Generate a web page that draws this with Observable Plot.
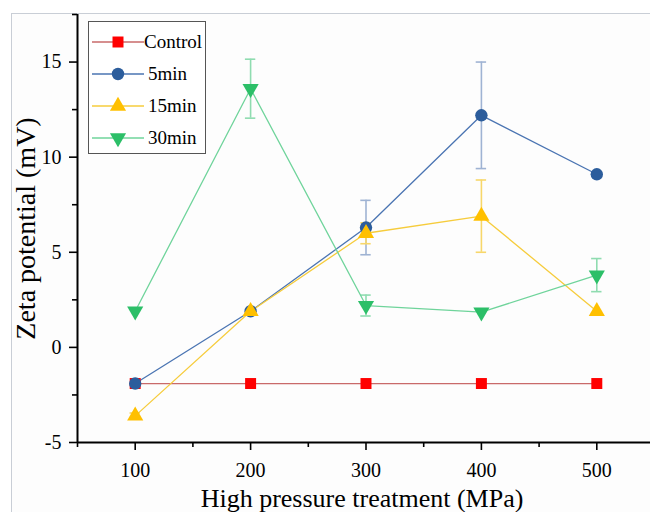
<!DOCTYPE html>
<html>
<head>
<meta charset="utf-8">
<script src="https://cdn.jsdelivr.net/npm/d3@7"></script>
<script src="https://cdn.jsdelivr.net/npm/@observablehq/plot@0.6"></script>
<style>
  html, body { margin: 0; padding: 0; background: #ffffff; }
  #wrap { position: relative; width: 650px; height: 512px; overflow: hidden; font-family: 'Liberation Serif', 'DejaVu Serif', serif; }
  #frame { position: absolute; left: 11px; top: 13px; width: 700px; height: 600px; border-top: 1px solid #c9ced6; border-left: 1px solid #c9ced6; background: #fdfdfd; }
  #chart { position: absolute; left: 0; top: 0; }
  #chart svg text { font-family: 'Liberation Serif', 'DejaVu Serif', serif; }
  #legend { position: absolute; left: 88px; top: 21px; width: 118px; height: 133px; border: 1px solid #555; background: #fff; box-sizing: border-box; }
  .row { position: absolute; left: 3px; height: 24px; display: flex; align-items: center; font-size: 19px; color: #000; font-family: 'Liberation Serif', 'DejaVu Serif', serif; }
  .row svg { display: block; }
</style>
</head>
<body>
<div id="wrap">
  <div id="frame"></div>
  <div id="chart"></div>
  <div id="legend"></div>
</div>
<script>
// ---- data ----
const pressures = [100, 200, 300, 400, 500];
const seriesNames = ["Control", "5min", "15min", "30min"];
const control = [-1.9, -1.9, -1.9, -1.9, -1.9];
const min5 = [-1.9, 1.9, 6.3, 12.2, 9.1];
const min15 = [-3.6, 1.9, 6.0, 6.9, 1.9];
const min30 = [1.9, 13.6, 2.2, 1.85, 3.8];
const errControl = [0, 0, 0, 0, 0];
const err5 = [0, 0, 1.43, 2.8, 0];
const err15 = [0.15, 0, 0.55, 1.9, 0];
const err30 = [0, 1.55, 0.55, 0, 0.87];
const yMajorTicks = [-5, 0, 5, 10, 15];
const yMinorTicks = [-2.5, 2.5, 7.5, 12.5, 17.5];
const xMajorTicks = [100, 200, 300, 400, 500];
const xMinorTicks = [50, 150, 250, 350, 450, 550];

// ---- styles ----
const FONT = "'Liberation Serif', 'DejaVu Serif', serif";
const lineColors = {"Control": "#c96a6a", "5min": "#4a74b2", "15min": "#f6cc3c", "30min": "#6fd49b"};
const markColors = {"Control": "#ff0000", "5min": "#2c5d9c", "15min": "#ffc000", "30min": "#2cbf68"};
const errColors = {"Control": "#e0a0a0", "5min": "#9fb3d3", "15min": "#f7d76a", "30min": "#8fdcb0"};

const triangleDown = {
  draw(context, size) {
    const y = -Math.sqrt(size / (3 * Math.sqrt(3)));
    context.moveTo(0, -y * 2);
    context.lineTo(-Math.sqrt(3) * y, y);
    context.lineTo(Math.sqrt(3) * y, y);
    context.closePath();
  }
};
const symbols = {"Control": "square", "5min": "circle", "15min": "triangle", "30min": triangleDown};
const radii = {"Control": 6.2, "5min": 6.2, "15min": 6.0, "30min": 6.0};

const values = [control, min5, min15, min30];
const errs = [errControl, err5, err15, err30];
const rows = [];
seriesNames.forEach((s, i) => {
  pressures.forEach((p, j) => rows.push({series: s, x: p, y: values[i][j], e: errs[i][j]}));
});

const marks = [];
// error bars
for (const s of seriesNames) {
  const d = rows.filter(r => r.series === s && r.e > 0);
  marks.push(Plot.ruleX(d, {x: "x", y1: r => r.y - r.e, y2: r => r.y + r.e, stroke: errColors[s], strokeWidth: 1.6}));
  marks.push(Plot.ruleY(d, {y: r => r.y + r.e, x1: r => r.x - 4.5, x2: r => r.x + 4.5, stroke: errColors[s], strokeWidth: 1.6}));
  marks.push(Plot.ruleY(d, {y: r => r.y - r.e, x1: r => r.x - 4.5, x2: r => r.x + 4.5, stroke: errColors[s], strokeWidth: 1.6}));
}
// lines + markers in series order
for (const s of seriesNames) {
  const d = rows.filter(r => r.series === s);
  marks.push(Plot.line(d, {x: "x", y: "y", stroke: lineColors[s], strokeWidth: 1.3}));
}
for (const s of seriesNames) {
  const d = rows.filter(r => r.series === s);
  marks.push(Plot.dot(d, {x: "x", y: "y", symbol: () => symbols[s], r: radii[s], fill: markColors[s], stroke: "none"}));
}

const chart = Plot.plot({
  width: 650,
  height: 512,
  marginLeft: 77,
  marginRight: -4,
  marginTop: 14,
  marginBottom: 70,
  style: {background: "transparent", fontFamily: FONT, color: "#000", overflow: "hidden"},
  x: {domain: [50, 550]},
  y: {domain: [-5, 17.5]},
  symbol: {type: "identity"},
  marks: [
    ...marks,
    Plot.axisX({ticks: xMajorTicks, tickSize: 8, tickPadding: 12, fontSize: 20, fontFamily: FONT, strokeWidth: 1.6, label: null, tickFormat: d => String(d)}),
    Plot.axisX({ticks: xMinorTicks, tickSize: 5, strokeWidth: 1.6, label: null, text: null}),
    Plot.axisY({ticks: yMajorTicks, tickSize: 8, tickPadding: 8, fontSize: 20, fontFamily: FONT, strokeWidth: 1.6, label: null, tickFormat: d => String(d)}),
    Plot.axisY({ticks: yMinorTicks, tickSize: 5, strokeWidth: 1.6, label: null, text: null}),
    Plot.ruleX([50], {stroke: "#000", strokeWidth: 2}),
    Plot.ruleY([-5], {stroke: "#000", strokeWidth: 2}),
    Plot.text(["Zeta potential (mV)"], {text: d => d, frameAnchor: "left", textAnchor: "middle", lineAnchor: "middle", rotate: -90, dx: -51, fontSize: 28, fontFamily: FONT, fill: "#000"}),
    Plot.text(["High pressure treatment (MPa)"], {text: d => d, frameAnchor: "bottom", textAnchor: "middle", lineAnchor: "middle", dy: 56, dx: -4, fontSize: 26, fontFamily: FONT, fill: "#000"})
  ]
});
document.getElementById("chart").appendChild(chart);

// ---- legend ----
const legend = document.getElementById("legend");
const rowTops = [8, 40, 72, 104];
const legendTextPad = {"Control": 0, "5min": 4, "15min": 4, "30min": 4};
seriesNames.forEach((s, i) => {
  const row = document.createElement("div");
  row.className = "row";
  row.style.top = rowTops[i] + "px";
  const sym = d3.symbol().type(s === "Control" ? d3.symbolSquare : s === "5min" ? d3.symbolCircle : s === "15min" ? d3.symbolTriangle : triangleDown).size(radii[s] * radii[s] * Math.PI);
  const svg = d3.create("svg").attr("width", 52).attr("height", 24);
  svg.append("line").attr("x1", 0).attr("x2", 52).attr("y1", 12).attr("y2", 12).attr("stroke", lineColors[s]).attr("stroke-width", 1.3);
  svg.append("path").attr("d", sym()).attr("transform", "translate(26,12)").attr("fill", markColors[s]);
  row.appendChild(svg.node());
  const t = document.createElement("span");
  t.textContent = s;
  t.style.marginLeft = legendTextPad[s] + "px";
  row.appendChild(t);
  legend.appendChild(row);
});
</script>
</body>
</html>
